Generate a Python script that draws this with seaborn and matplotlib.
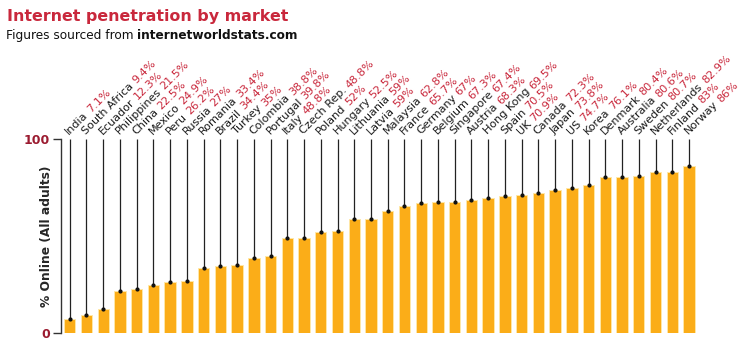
import matplotlib
matplotlib.use("Agg")
import matplotlib.pyplot as plt
import matplotlib.transforms as mtransforms
import seaborn as sns
import numpy as np
import pandas as pd


countries = ["India", "South Africa", "Ecuador", "Philippines", "China", "Mexico",
             "Peru", "Russia", "Romania", "Brazil", "Turkey", "Colombia",
             "Portugal", "Italy", "Czech Rep.", "Poland", "Hungary", "Lithuania",
             "Latvia", "Malaysia", "France", "Germany", "Belgium", "Singapore",
             "Austria", "Hong Kong", "Spain", "UK", "Canada", "Japan", "US",
             "Korea", "Denmark", "Australia", "Sweden", "Netherlands", "Finland",
             "Norway"]
online = [7.1, 9.4, 12.3, 21.5, 22.5, 24.9, 26.2, 27, 33.4, 34.4, 35, 38.8,
          39.8, 48.8, 48.8, 52, 52.5, 59, 59, 62.8, 65.7, 67, 67.3, 67.4,
          68.3, 69.5, 70.5, 70.9, 72.3, 73.8, 74.7, 76.1, 80.4, 80.6, 80.7,
          82.9, 83, 86]
value_labels = ["7.1%", "9.4%", "12.3%", "21.5%", "22.5%", "24.9%", "26.2%",
                "27%", "33.4%", "34.4%", "35%", "38.8%", "39.8%", "48.8%",
                "48.8%", "52%", "52.5%", "59%", "59%", "62.8%", "65.7%", "67%",
                "67.3%", "67.4%", "68.3%", "69.5%", "70.5%", "70.9%", "72.3%",
                "73.8%", "74.7%", "76.1%", "80.4%", "80.6%", "80.7%", "82.9%",
                "83%", "86%"]
y_ticks = [0, 100]

BAR = "#fbad18"
RED = "#c9283c"
DARKRED = "#9b1b30"

sns.set_style("white")
plt.rcParams["font.family"] = ["DejaVu Sans"]

df = pd.DataFrame({"country": countries, "online": online})

fig = plt.figure(figsize=(7.46, 3.56), dpi=100)
ax = fig.add_axes([0.0818, 0.0646, 0.853, 0.545])
sns.barplot(data=df, x="country", y="online", color=BAR, saturation=1,
            width=0.68, edgecolor="#ffe7a6", linewidth=0.7, ax=ax)

ax.set_xlim(-0.52, 37.5)
ax.set_ylim(0, 100)
ax.set_yticks(y_ticks)
ax.set_yticklabels([str(t) for t in y_ticks], fontsize=9, fontweight="bold",
                   color=DARKRED)
ax.tick_params(axis="y", left=True, length=6, width=1, color="#333333", pad=2)
ax.set_xticks([])
ax.set_xlabel("")
ax.set_ylabel("% Online (All adults)", fontsize=8.8, fontweight="bold")
# the label sits tight against the axis, between the two tick labels
ax.yaxis.set_label_coords(-0.0126, 0.5)
for s in ["top", "right", "bottom"]:
    ax.spines[s].set_visible(False)
ax.spines["left"].set_color("#333333")
ax.spines["left"].set_linewidth(1)

# leader lines from the labels down to each bar top
xs = np.arange(len(countries))
ax.vlines(xs, online, 100, color="#222222", lw=0.9, clip_on=False, zorder=3)
ax.plot(xs, online, "o", color="#111111", ms=2, zorder=4, clip_on=False)

# two-colour rotated labels: name in black, value in red
fig.canvas.draw()
renderer = fig.canvas.get_renderer()
c45 = np.cos(np.radians(45))
for i, (name, val) in enumerate(zip(countries, value_labels)):
    tr = mtransforms.offset_copy(ax.transData, fig, x=-0.5, y=4, units="dots")
    t1 = ax.text(i, 100, name, rotation=45, rotation_mode="anchor", ha="left",
                 va="baseline", fontsize=8, color="#1a1a1a", transform=tr,
                 clip_on=False)
    fp = t1.get_fontproperties()
    w, _, _ = renderer.get_text_width_height_descent(name, fp, ismath=False)
    w2, _, _ = renderer.get_text_width_height_descent("a a", fp, ismath=False)
    w3, _, _ = renderer.get_text_width_height_descent("aa", fp, ismath=False)
    off = (w + (w2 - w3)) * c45
    tr2 = mtransforms.offset_copy(ax.transData, fig, x=-0.5 + off, y=4 + off,
                                  units="dots")
    ax.text(i, 100, val, rotation=45, rotation_mode="anchor", ha="left",
            va="baseline", fontsize=8, color=RED, transform=tr2, clip_on=False)

# title and subtitle
fig.text(7 / 746, 1 - 20.5 / 356, "Internet penetration by market",
         fontsize=11.4, fontweight="bold", color=RED, va="baseline")
sub1 = fig.text(6 / 746, 1 - 39 / 356, "Figures sourced from ", fontsize=8.7,
                color="#111111", va="baseline")
fig.canvas.draw()
bb = sub1.get_window_extent(renderer)
fig.text(bb.x1 / fig.bbox.width, 1 - 39 / 356, "internetworldstats.com",
         fontsize=8.7, fontweight="bold", color="#111111", va="baseline")

fig.savefig("out.png", dpi=100)
